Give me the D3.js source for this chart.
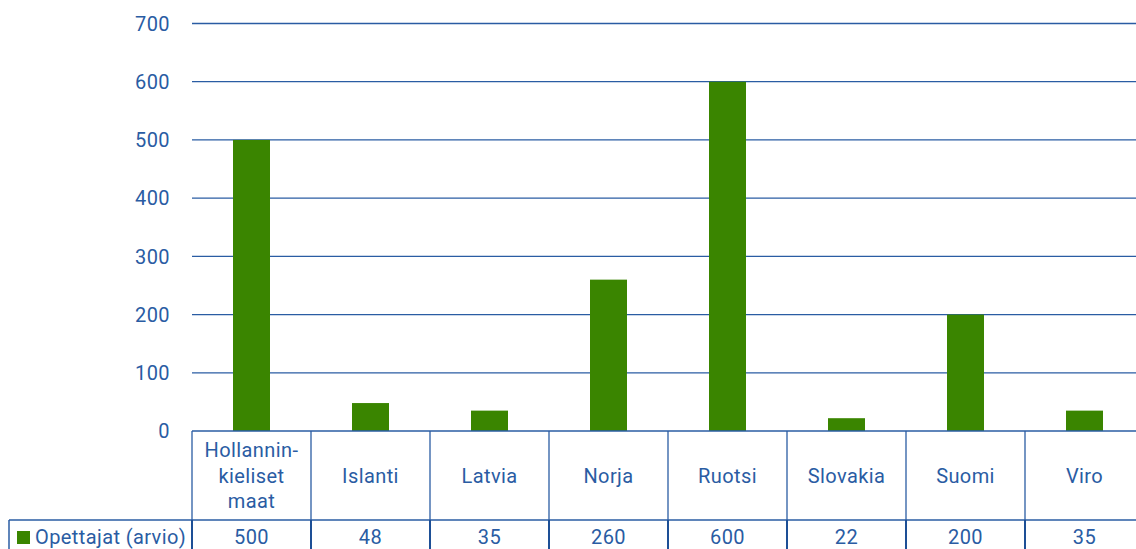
<!DOCTYPE html>
<html>
<head>
<meta charset="utf-8">
<script src="https://cdn.jsdelivr.net/npm/d3@7"></script>
<style>
  body { margin: 0; background: #fff; }
  svg { display: block; font-family: Roboto, "DejaVu Sans", sans-serif; letter-spacing: 0.4px; }
</style>
</head>
<body>
<div id="chart"></div>
<script>
// data
const categories = [["Hollannin-", "kieliset", "maat"], ["Islanti"], ["Latvia"], ["Norja"], ["Ruotsi"], ["Slovakia"], ["Suomi"], ["Viro"]];
const values = [500, 48, 35, 260, 600, 22, 200, 35];
const yTicks = [0, 100, 200, 300, 400, 500, 600, 700];
const seriesName = "Opettajat (arvio)";

const W = 1136, H = 549;
const blue = "#2a5ca3";
const green = "#3a8500";
const fs = "20px";

const svg = d3.select("#chart").append("svg")
  .attr("width", W)
  .attr("height", H);

const keys = categories.map((c, i) => i);
const x = d3.scaleBand().domain(keys).range([192, 192 + 8 * 119]).padding(0);
const y = d3.scaleLinear().domain([0, 700]).range([431, 23.5]);

// gridlines
svg.append("g")
  .selectAll("line")
  .data(yTicks.filter(d => d > 0))
  .enter()
  .append("line")
  .attr("x1", 192).attr("x2", W)
  .attr("y1", d => y(d)).attr("y2", d => y(d))
  .attr("stroke", blue)
  .attr("stroke-width", 1.3);

// y tick labels
svg.append("g")
  .selectAll("text")
  .data(yTicks)
  .enter()
  .append("text")
  .attr("x", 170)
  .attr("y", d => y(d))
  .attr("dy", "0.36em")
  .attr("text-anchor", "end")
  .style("font-size", fs)
  .style("fill", blue)
  .text(d => d);

// bars
const bw = 37;
svg.append("g")
  .selectAll("rect")
  .data(values)
  .enter()
  .append("rect")
  .attr("x", (d, i) => x(i) + (x.bandwidth() - bw) / 2)
  .attr("y", d => y(d))
  .attr("width", bw)
  .attr("height", d => y(0) - y(d))
  .attr("fill", green);

// table
const t = svg.append("g");
const rowTop = 431, rowMid = 520, rowBot = 560;

t.append("line")
  .attr("x1", 192).attr("x2", W)
  .attr("y1", rowTop).attr("y2", rowTop)
  .attr("stroke", blue).attr("stroke-width", 1.5);
t.append("line")
  .attr("x1", 9).attr("x2", W)
  .attr("y1", rowMid).attr("y2", rowMid)
  .attr("stroke", blue).attr("stroke-width", 1.5);
t.append("line")
  .attr("x1", 9).attr("x2", 9)
  .attr("y1", rowMid).attr("y2", rowBot)
  .attr("stroke", blue).attr("stroke-width", 1.5);

const bounds = keys.map(i => x(i)).concat([x(7) + x.bandwidth()]);
t.selectAll(".vline")
  .data(bounds)
  .enter()
  .append("line")
  .attr("x1", d => d).attr("x2", d => d)
  .attr("y1", rowTop).attr("y2", rowMid)
  .attr("stroke", blue).attr("stroke-width", 1.3);
t.selectAll(".vline2")
  .data(bounds)
  .enter()
  .append("line")
  .attr("x1", d => d).attr("x2", d => d)
  .attr("y1", rowMid).attr("y2", rowBot)
  .attr("stroke", "#1d4f96").attr("stroke-width", 2);

// category labels
const lab = t.selectAll(".cat")
  .data(categories)
  .enter()
  .append("text")
  .attr("text-anchor", "middle")
  .style("font-size", fs)
  .style("fill", blue);
lab.each(function(lines, i) {
  const el = d3.select(this);
  const cy = (rowTop + rowMid) / 2;
  const lh = 25.5;
  const start = cy - (lines.length - 1) * lh / 2;
  lines.forEach((s, j) => {
    el.append("tspan")
      .attr("x", x(i) + x.bandwidth() / 2)
      .attr("y", start + j * lh)
      .attr("dy", "0.36em")
      .text(s);
  });
});

// values row
t.selectAll(".val")
  .data(values)
  .enter()
  .append("text")
  .attr("x", (d, i) => x(i) + x.bandwidth() / 2)
  .attr("y", 537)
  .attr("dy", "0.36em")
  .attr("text-anchor", "middle")
  .style("font-size", fs)
  .style("fill", blue)
  .text(d => d);

// legend
t.append("rect")
  .attr("x", 17).attr("y", 531)
  .attr("width", 13).attr("height", 13)
  .attr("fill", green);
t.append("text")
  .attr("x", 35).attr("y", 537)
  .attr("dy", "0.36em")
  .style("font-size", fs)
  .style("fill", blue)
  .text(seriesName);
</script>
</body>
</html>
